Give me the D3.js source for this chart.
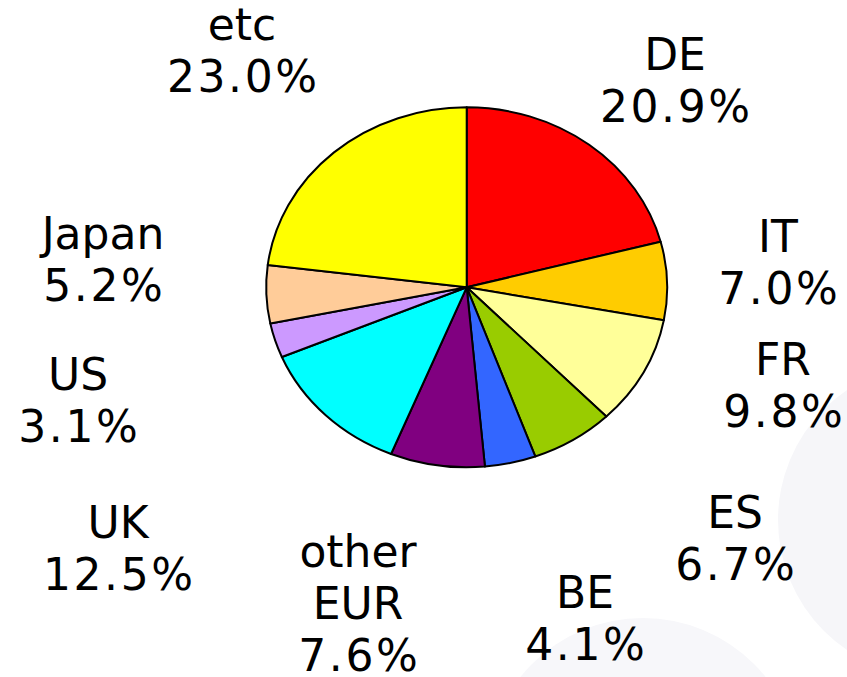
<!DOCTYPE html>
<html>
<head>
<meta charset="utf-8">
<script src="https://cdn.jsdelivr.net/npm/d3@7"></script>
<style>
  html, body { margin: 0; padding: 0; background: #ffffff; }
  svg { display: block; }
  text { font-family: Verdana, "DejaVu Sans", sans-serif; fill: #000; }
</style>
</head>
<body>
<svg id="chart" width="847" height="677"></svg>
<script>
// ---- data ----
const categories = ["DE", "IT", "FR", "ES", "BE", "other EUR", "UK", "US", "Japan", "etc"];
const shares     = [20.9, 7.0, 9.8, 6.7, 4.1, 7.6, 12.5, 3.1, 5.2, 23.0];
const labelLines = [["DE"], ["IT"], ["FR"], ["ES"], ["BE"], ["other", "EUR"], ["UK"], ["US"], ["Japan"], ["etc"]];

// ---- styles / layout ----
const colors = ["#FF0000", "#FFCC00", "#FFFF99", "#99CC00", "#3366FF",
                "#800080", "#00FFFF", "#CC99FF", "#FFCC99", "#FFFF00"];
const labelPos = [[675, 70], [778, 252], [783, 375], [735, 528], [585, 608],
                  [358, 567], [118, 538], [78, 390], [103, 249], [242, 40]];
const cx = 466.7, cy = 287.3, rx = 200.5, ry = 180;
const fontSize = 44, lineH = 52, valSpacing = 2.6;

const svg = d3.select("#chart");

// faint background shapes
svg.append("circle").attr("cx", 935).attr("cy", 520).attr("r", 157).attr("fill", "#f6f6f9");
svg.append("circle").attr("cx", 643).attr("cy", 775).attr("r", 157).attr("fill", "#f7f7fa");

const pie = d3.pie().sort(null).value(d => d)(shares);
const arc = d3.arc().innerRadius(0).outerRadius(rx);

const g = svg.append("g").attr("transform", `translate(${cx},${cy}) scale(1,${ry / rx})`);
g.selectAll("path.slice")
  .data(pie)
  .join("path")
  .attr("class", "slice")
  .attr("d", arc)
  .attr("fill", (d, i) => colors[i])
  .attr("stroke", "#000")
  .attr("stroke-width", 2)
  .attr("stroke-linejoin", "round")
  .attr("vector-effect", "non-scaling-stroke");

const labels = svg.selectAll("text.lbl")
  .data(categories)
  .join("text")
  .attr("class", "lbl")
  .attr("text-anchor", "middle")
  .attr("font-size", fontSize)
  .attr("x", (d, i) => labelPos[i][0])
  .attr("y", (d, i) => labelPos[i][1]);

labels.each(function (d, i) {
  const t = d3.select(this);
  labelLines[i].forEach((ln, k) => {
    t.append("tspan")
      .attr("x", labelPos[i][0])
      .attr("dy", k === 0 ? 0 : lineH)
      .text(ln);
  });
  t.append("tspan")
    .attr("x", labelPos[i][0] + valSpacing / 2)
    .attr("dy", lineH)
    .attr("letter-spacing", valSpacing)
    .text(shares[i].toFixed(1) + "%");
});
</script>
</body>
</html>
